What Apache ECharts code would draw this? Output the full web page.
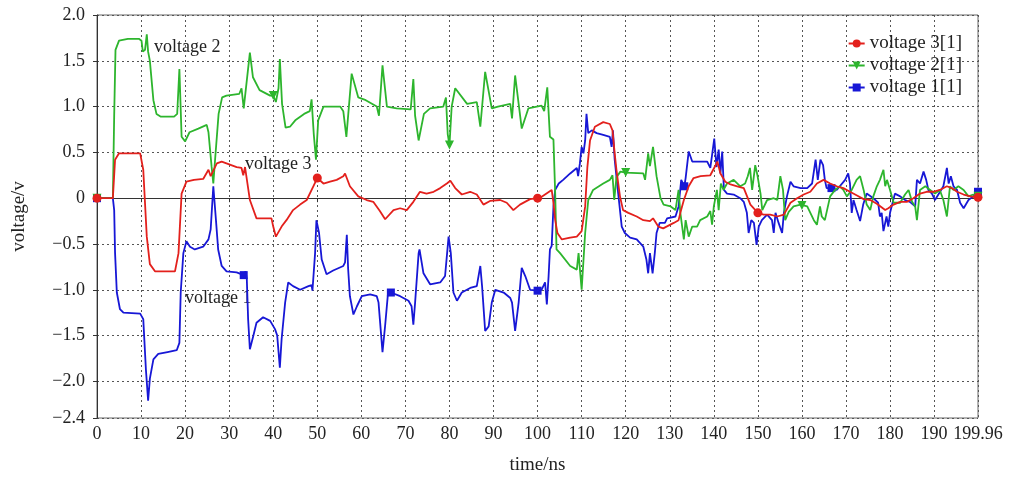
<!DOCTYPE html>
<html>
<head>
<meta charset="utf-8">
<title>voltage vs time</title>
<script src="https://cdn.jsdelivr.net/npm/echarts@6/dist/echarts.min.js"></script>
<style>
  html, body { margin: 0; padding: 0; background: #fff; }
  #chart { width: 1013px; height: 480px; }
</style>
</head>
<body>
<div id="chart"></div>
<script>
// time in ns, voltage in v
const voltage1 = [
  [0,0],[3.6,0],[3.9,-0.13],[4.1,-0.6],[4.5,-1.03],[5.2,-1.21],[6,-1.25],[9.8,-1.26],[10.5,-1.32],[11.1,-1.87],
  [11.6,-2.21],[12,-1.97],[12.8,-1.76],[13.9,-1.7],[16,-1.68],[18.1,-1.66],[18.7,-1.58],[19,-1.03],[19.6,-0.6],
  [20.3,-0.47],[21.1,-0.53],[22.2,-0.56],[24.1,-0.53],[25.3,-0.45],[25.8,-0.34],[26.4,0.13],[26.6,0.15],[27,-0.24],
  [27.5,-0.56],[28.3,-0.74],[29.4,-0.8],[31.7,-0.81],[33.3,-0.84],[33.7,-0.8],[34,-0.88],[34.3,-1.32],[34.7,-1.65],
  [35.1,-1.67],[35.5,-1.5],[36.2,-1.36],[37.7,-1.3],[39.3,-1.34],[40.4,-1.43],[40.9,-1.5],[41.5,-1.85],[41.9,-1.54],
  [42.7,-1.14],[43.4,-0.92],[44.5,-0.96],[46.1,-1.0],[48,-0.96],[48.7,-0.95],[48.9,-1.01],[49.5,-0.6],[49.8,-0.24],
  [50.4,-0.38],[51,-0.67],[52.1,-0.83],[53.6,-0.79],[55.9,-0.74],[56.3,-0.7],[56.7,-0.4],[57,-0.77],[57.4,-1.07],
  [58.2,-1.27],[59,-1.18],[60.1,-1.07],[62,-1.05],[63.5,-1.07],[63.9,-1.14],[64.2,-1.32],[64.8,-1.68],[65.4,-1.39],
  [66.1,-1.01],[66.7,-1.03],[68.8,-1.07],[70.7,-1.12],[71.4,-1.18],[71.8,-1.38],[72.2,-1.14],[73,-0.6],[73.2,-0.56],
  [74.1,-0.82],[75.6,-0.94],[77.9,-0.92],[79,-0.85],[79.4,-0.87],[79.8,-0.42],[80.3,-0.6],[80.9,-1.03],[81.7,-1.12],
  [82.8,-1.03],[84.7,-0.98],[86.2,-0.96],[87,-0.74],[87.4,-0.96],[88.1,-1.45],[88.9,-1.4],[89.6,-1.14],[90.4,-1.0],
  [92.3,-1.03],[93.8,-1.09],[94.2,-1.14],[94.9,-1.45],[95.7,-1.14],[96.4,-0.76],[97.2,-0.85],[98.3,-1.0],[100,-1.01],
  [100.9,-1.0],[101.7,-0.92],[102.1,-1.16],[102.5,-0.85],[102.8,-0.56],[103.2,-0.52],[103.6,-0.09],[104,0.09],
  [104.8,0.16],[105.8,0.2],[107.4,0.27],[108.9,0.33],[109.2,0.24],[109.6,0.38],[110,0.56],[110.4,0.49],[110.8,0.63],
  [111.1,0.92],[111.5,0.71],[112.3,0.74],[113.4,0.71],[114.9,0.69],[116.4,0.67],[116.8,0.56],[117.1,0.74],[117.5,0.42],
  [118.3,0.05],[119.1,-0.31],[119.8,-0.38],[121,-0.43],[122.5,-0.45],[124,-0.53],[124.7,-0.67],[125.1,-0.82],
  [125.5,-0.6],[126.1,-0.82],[126.6,-0.6],[127,-0.38],[127.7,-0.27],[128.9,-0.27],[129.4,-0.22],[131.3,-0.2],
  [132,-0.09],[132.6,0.2],[133.3,0.13],[133.6,0.22],[134.3,0.51],[135.1,0.4],[136.2,0.4],[138.5,0.4],[139.2,0.33],
  [139.6,0.47],[140.1,0.65],[140.6,0.34],[141.1,0.53],[141.5,0.27],[141.9,0.51],[142.3,0.09],[143,0.05],[144.5,0.04],
  [146,0],[146.8,-0.04],[147.5,-0.16],[147.9,-0.38],[148.5,-0.24],[149.1,-0.27],[149.7,-0.51],[150.2,-0.31],
  [150.9,-0.24],[152.1,-0.18],[153.2,-0.24],[153.6,-0.38],[154,-0.16],[154.7,-0.27],[155.5,-0.38],[155.9,-0.16],
  [156.6,0.02],[157.4,0.18],[158.1,0.13],[159.7,0.11],[161.2,0.11],[162.3,0.16],[163.1,0.42],[163.6,0.2],[164.2,0.42],
  [164.8,0.36],[165.2,0.2],[165.6,0.11],[166.7,0.11],[167.9,0.09],[168.6,0.13],[169.8,0.2],[170.5,0.27],[170.9,0.16],
  [171.3,-0.16],[171.7,-0.02],[172.4,-0.13],[173.2,-0.25],[173.9,-0.07],[174.7,0.05],[176.2,0],[177.3,-0.05],
  [177.7,-0.2],[178.1,-0.16],[178.5,-0.36],[179.2,-0.2],[179.6,-0.31],[180,-0.16],[181.1,0.05],[182.3,0.02],
  [183.4,-0.02],[184.5,-0.04],[185.7,-0.09],[186.1,0.2],[186.8,0.16],[187.6,0.29],[188.2,0.2],[188.7,0.09],
  [189.5,0.05],[190.2,-0.02],[192.1,0.13],[192.9,0.33],[193.3,0.16],[193.8,0.24],[194.4,0.13],[195.2,0.09],
  [195.9,-0.05],[196.7,-0.11],[197.8,-0.02],[198.9,0.02],[199.96,0.07]
]

const voltage2 = [
  [0,0],[3.6,0],[3.9,0.9],[4.2,1.62],[5,1.72],[7,1.74],[9.5,1.74],[10.1,1.72],[10.4,1.6],[10.9,1.62],[11.3,1.79],
  [11.6,1.6],[12,1.5],[12.8,1.07],[13.5,0.92],[14.5,0.89],[17.5,0.89],[18.2,0.92],[18.7,1.41],[19.2,0.67],[20,0.62],
  [21,0.72],[23,0.76],[24.9,0.8],[25.3,0.72],[26,0.35],[26.4,0.16],[26.8,0.42],[27.6,0.92],[28.4,1.1],[29.4,1.12],
  [32.3,1.14],[32.8,1.2],[33.3,0.98],[33.7,1.0],[34.7,1.59],[35.4,1.32],[36.9,1.18],[39.3,1.12],[40,1.12],[40.6,1.05],
  [41.2,1.2],[41.5,1.52],[42,1.03],[42.8,0.77],[43.8,0.78],[45,0.85],[47,0.92],[48.3,0.95],[48.7,1.08],[49.2,0.7],
  [49.7,0.42],[50.2,0.85],[51.4,1.0],[55.2,1.0],[55.9,0.95],[56.6,0.67],[57.8,1.36],[59.3,1.1],[61,1.07],[63.5,1.0],
  [64,0.9],[64.8,1.45],[65.8,1.0],[68,0.98],[71.2,0.97],[71.8,1.3],[72.2,0.9],[73,0.63],[74.2,0.92],[75.6,0.98],
  [78.6,1.0],[79.2,1.1],[79.6,0.7],[80,0.58],[80.5,1.0],[81.3,1.2],[84,1.03],[86.2,1.05],[87,0.78],[88.1,1.38],
  [89.6,0.98],[91,1.0],[93.8,1.03],[94.2,0.87],[94.9,1.34],[96.4,0.76],[97.9,0.98],[100.9,1.01],[101.5,0.95],
  [102.2,1.21],[102.8,0.67],[103.6,0.64],[104,0.05],[104.3,-0.56],[105.1,-0.6],[107.4,-0.74],[108.9,-0.78],
  [109.3,-0.6],[110,-1.0],[110.8,-0.38],[111.5,-0.02],[112.6,0.09],[114.9,0.16],[116.4,0.2],[117,0.25],[117.4,-0.02],
  [117.9,0.23],[118.8,0.29],[120,0.28],[124,0.27],[124.4,0.2],[125.1,0.49],[125.5,0.35],[126.2,0.56],[127,0.24],
  [127.9,0],[128.6,-0.07],[130.2,-0.09],[131.3,-0.13],[132,0.09],[132.4,-0.16],[133.2,-0.45],[133.6,-0.24],
  [134.3,-0.42],[135.1,-0.31],[136.2,-0.31],[136.9,-0.24],[138.5,-0.2],[139.2,-0.14],[139.6,-0.29],[140,-0.09],
  [140.7,0.09],[141.1,-0.13],[141.6,0.16],[142.2,0.09],[143,0.16],[144.5,0.2],[146,0.13],[147.1,0.16],[147.7,0.24],
  [148.2,0.33],[148.7,0.09],[149.4,0.36],[149.9,0.25],[150.6,0.05],[151,-0.13],[152.1,-0.02],[153.6,0],[154.4,-0.02],
  [155.1,0.24],[155.7,0.09],[156.2,-0.24],[157,-0.15],[158.1,-0.09],[159.7,-0.07],[160,-0.08],[161.2,-0.09],
  [162.7,-0.24],[163.4,-0.29],[164.1,-0.09],[164.5,-0.2],[165.2,-0.24],[166.4,0.02],[167.5,0.09],[168.6,0.13],
  [169.4,0.09],[170.2,0.02],[171.3,0.09],[172.4,0.2],[173.2,0.24],[174,0.09],[174.7,-0.07],[175.5,-0.13],[176.2,0.02],
  [177,0.13],[177.7,0.2],[178.5,0.31],[178.9,0.13],[179.3,0.2],[180,0.09],[180.8,-0.05],[182.3,-0.05],[183.4,0.04],
  [184.2,0.09],[185,-0.04],[185.7,-0.09],[186.1,-0.24],[186.8,0.09],[188,0.13],[189.1,0.09],[190.2,0.05],[191.3,0.09],
  [192.1,-0.02],[192.9,-0.2],[193.6,0.13],[194.4,0.09],[195.5,0.13],[196.7,0.09],[197.8,0.02],[198.9,0.04],[199.96,0.02]
]

const voltage3 = [
  [0,0],[3.6,0],[4.1,0.42],[5,0.49],[9.8,0.49],[10.5,0.31],[11.3,-0.42],[12,-0.72],[13.2,-0.8],[17.7,-0.8],
  [18.5,-0.6],[19.2,0.05],[20.3,0.18],[22,0.2],[24.1,0.21],[25.3,0.31],[25.8,0.24],[27.2,0.38],[28.3,0.4],[31.7,0.34],
  [32.8,0.33],[33.2,0.25],[33.6,0.34],[34.7,-0.02],[36.2,-0.22],[39.6,-0.22],[40,-0.31],[40.6,-0.42],[41.9,-0.31],
  [43,-0.24],[44.5,-0.13],[46.1,-0.07],[47.6,-0.02],[49.1,0.13],[50,0.22],[51.4,0.16],[52.9,0.18],[54.4,0.2],
  [55.9,0.24],[56.3,0.27],[57.4,0.13],[59.3,0.02],[61.2,-0.02],[62.7,-0.04],[64.2,-0.14],[65.4,-0.23],[67.3,-0.13],
  [68.8,-0.11],[70.3,-0.13],[71.8,-0.04],[73.3,0.07],[74.8,0.05],[76.4,0.07],[77.9,0.11],[79.4,0.16],[80.2,0.19],
  [81.3,0.11],[82.8,0.04],[84.7,0.07],[86.2,0.04],[87.7,-0.07],[89.2,-0.03],[91.5,-0.02],[93,-0.05],[94.5,-0.13],
  [96,-0.07],[98.3,-0.01],[100,0],[101.1,0.02],[103.2,0.09],[103.6,-0.05],[104,-0.24],[104.5,-0.38],[105.5,-0.45],
  [107.4,-0.43],[108.9,-0.42],[110,-0.36],[110.8,-0.09],[111.3,0.34],[111.9,0.63],[113,0.78],[114.9,0.83],
  [116.4,0.81],[117,0.74],[117.5,0.49],[117.9,0.31],[118.7,0.02],[119.4,-0.13],[120.6,-0.16],[122.5,-0.2],[124,-0.24],
  [125.5,-0.25],[126.2,-0.22],[127.4,-0.31],[128.5,-0.33],[130.9,-0.27],[132,-0.24],[132.4,-0.16],[133.2,-0.02],
  [134.3,0.13],[135.4,0.22],[137,0.24],[139.2,0.25],[140.4,0.36],[140.8,0.4],[141.5,0.27],[142.6,0.18],[143.8,0.15],
  [145.3,0.13],[146.8,0.11],[148.3,-0.07],[150,-0.16],[151.3,-0.18],[152.8,-0.18],[154.4,-0.2],[155.9,-0.18],
  [157.4,-0.05],[158.9,0],[160.4,0.04],[161.9,0.07],[163.4,0.16],[164.9,0.2],[166.4,0.16],[167.9,0.13],[169.4,0.11],
  [170.9,0.07],[172.5,0.03],[174,-0.01],[175.5,-0.02],[177,-0.06],[178.9,-0.13],[179.6,-0.11],[180.8,-0.07],
  [182.3,-0.04],[183.8,-0.04],[185.3,0],[186.8,0.05],[188.3,0.07],[189.8,0.07],[191.3,0.09],[192.9,0.13],[194,0.11],
  [195.2,0.07],[196.7,0.04],[198.2,0.02],[199.96,0.01]
]

// times where the plot shows a marker on each curve
const marks1 = [0, 33.3, 66.7, 100, 133.3, 166.7, 199.96]
const marks2 = [0, 40, 80, 120, 160, 199.96]
const marks3 = [0, 50, 100, 150, 199.96]

const names = ['voltage 3[1]', 'voltage 2[1]', 'voltage 1[1]']
const colors = ['#e3201c', '#2db52d', '#1717d6']

const serif = '"Liberation Serif", "DejaVu Serif", serif'

function markSize(list, size) {
  return function(val) {
    return list.indexOf(val[0]) >= 0 ? size : 0
  }
}

function fmtY(v) {
  if (Math.abs(v) < 1e-9) return '0'
  return v.toFixed(1).replace('-', '\u2212')
}

const chart = echarts.init(document.getElementById('chart'))

chart.setOption({
  animation: false,
  textStyle: { fontFamily: serif },
  grid: {
    left: 97,
    right: 35,
    top: 15,
    bottom: 60,
    show: true,
    borderColor: '#666',
    borderWidth: 1
  },
  legend: {
    orient: 'vertical',
    right: 46,
    top: 29,
    itemGap: 3,
    itemWidth: 16,
    itemHeight: 10,
    textStyle: { fontFamily: serif, fontSize: 19, color: '#222' },
    data: names
  },
  xAxis: {
    type: 'value',
    min: 0,
    max: 199.96,
    interval: 10,
    name: 'time/ns',
    nameLocation: 'middle',
    nameGap: 38,
    nameTextStyle: { fontFamily: serif, fontSize: 19, color: '#222' },
    axisLine: { lineStyle: { color: '#333' } },
    axisTick: { inside: false, length: 4, lineStyle: { color: '#333' } },
    axisLabel: { fontFamily: serif, fontSize: 18, color: '#222', margin: 7 },
    splitLine: { show: true, lineStyle: { type: [2, 3], color: '#555', width: 1 } }
  },
  yAxis: {
    type: 'value',
    min: -2.4,
    max: 2.0,
    splitNumber: 9,
    name: 'voltage/v',
    nameLocation: 'middle',
    nameGap: 68,
    nameTextStyle: { fontFamily: serif, fontSize: 19, color: '#222' },
    axisLine: { show: true, lineStyle: { color: '#333' } },
    axisTick: { show: true, length: 4, lineStyle: { color: '#333' } },
    axisLabel: { fontFamily: serif, fontSize: 18, color: '#222', margin: 12, formatter: fmtY },
    splitLine: { show: true, lineStyle: { type: [2, 3], color: '#555', width: 1 } }
  },
  series: [
    {
      name: names[0],
      type: 'line',
      data: voltage3,
      color: colors[0],
      symbol: 'circle',
      symbolSize: markSize(marks3, 9),
      lineStyle: { width: 1.8 },
      z: 4
    },
    {
      name: names[1],
      type: 'line',
      data: voltage2,
      color: colors[1],
      symbol: 'triangle',
      symbolRotate: 180,
      symbolSize: markSize(marks2, 9),
      lineStyle: { width: 1.8 },
      z: 3
    },
    {
      name: names[2],
      type: 'line',
      data: voltage1,
      color: colors[2],
      symbol: 'rect',
      symbolSize: markSize(marks1, 8),
      lineStyle: { width: 1.8 },
      z: 2
    }
  ],
  graphic: [
    { type: 'text', left: 154, top: 38, style: { text: 'voltage 2', font: '18px ' + serif, fill: '#222' } },
    { type: 'text', left: 245, top: 155, style: { text: 'voltage 3', font: '18px ' + serif, fill: '#222' } },
    { type: 'text', left: 185, top: 289, style: { text: 'voltage 1', font: '18px ' + serif, fill: '#222' } }
  ]
})
</script>
</body>
</html>
